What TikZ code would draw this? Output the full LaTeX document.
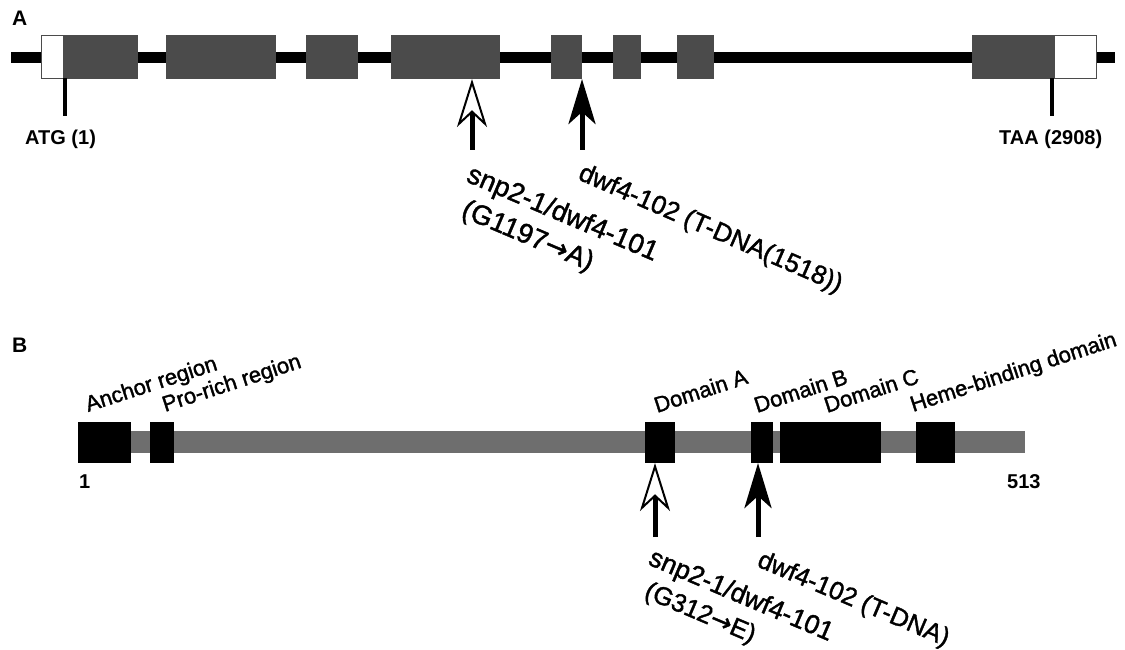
\documentclass[tikz,border=0pt]{standalone}
\usepackage{fontspec}
\setmainfont{Liberation Sans}
\newfontfamily\medfont[FakeBold=1.5]{Liberation Sans}
\newfontfamily\arrowfont[FakeBold=1.5]{DejaVu Sans}
\usetikzlibrary{arrows.meta}
\definecolor{exongray}{HTML}{4B4B4B}
\definecolor{bargray}{HTML}{6E6E6E}
\newcommand{\rarr}{{\arrowfont →}}
\begin{document}
\begin{tikzpicture}[x=1pt,y=-1pt,
  exon/.style={fill=exongray, draw=none, inner sep=0pt, outer sep=0pt, minimum height=44pt},
  utr/.style={fill=white, draw=exongray, line width=1pt, inner sep=0pt, outer sep=0pt, minimum height=43pt},
  dom/.style={fill=black, draw=none, inner sep=0pt, outer sep=0pt, minimum height=41pt},
  tickline/.style={line width=4pt},
  panel/.style={font=\bfseries\fontsize{21}{24}\selectfont, anchor=base west, inner sep=0pt},
  poslabel/.style={font=\bfseries\fontsize{20}{24}\selectfont, anchor=base west, inner sep=0pt},
  mut/.style={font=\medfont\fontsize{26}{30}\selectfont, anchor=base west, inner sep=0pt, rotate=-23.5},
  mutsnp/.style={font=\medfont\fontsize{27.5}{30}\selectfont, anchor=base west, inner sep=0pt, rotate=-23},
  mutb/.style={font=\medfont\fontsize{25.5}{30}\selectfont, anchor=base west, inner sep=0pt, rotate=-23},
  reg/.style={font=\medfont\fontsize{22}{26}\selectfont, anchor=base west, inner sep=0pt, rotate=18},
  hollowarrow/.style={line width=5pt, -{Stealth[length=48pt, width=30pt, inset=14pt, line width=2pt, fill=white]}},
  filledarrow/.style={line width=5pt, -{Stealth[length=45pt, width=27pt, inset=12pt]}}
]
\useasboundingbox (0,0) rectangle (1125,650);

% ---------------- Panel A ----------------
\node[panel] (labA) at (12,26) {A};
\coordinate (ls) at (11,57.5);
\coordinate (le) at (1115,57.5);
\draw[line width=11pt] (ls) -- (le);

\node[utr, minimum width=22pt] (u5) at (52,57) {};
\node[exon, minimum width=75pt] (e1) at (100.5,57) {};
\node[exon, minimum width=110pt] (e2) at (221,57) {};
\node[exon, minimum width=52pt] (e3) at (332,57) {};
\node[exon, minimum width=109pt] (e4) at (445.5,57) {};
\node[exon, minimum width=31pt] (e5) at (566.5,57) {};
\node[exon, minimum width=28pt] (e6) at (627,57) {};
\node[exon, minimum width=37pt] (e7) at (695.5,57) {};
\node[exon, minimum width=82pt] (e8) at (1013,57) {};
\node[utr, minimum width=42pt] (u3) at (1075,57) {};

\coordinate (atgb) at (65,116);
\coordinate (taab) at (1052,116);
\draw[tickline] (atgb) -- (atgb |- u5.south);
\draw[tickline] (taab) -- (taab |- u3.south);
\node[poslabel] (atg) at (25,145) {ATG (1)};
\node[poslabel] (taa) at (999,145) {TAA (2908)};

\coordinate (ma1) at (472,150);
\coordinate (ma2) at (582,150);
\draw[hollowarrow] (ma1) -- (ma1 |- e4.south);
\draw[filledarrow] (ma2) -- (ma2 |- e5.south);

\node[mutsnp] (snpA) at (465,181) {snp2-1/dwf4-101};
\node[mutsnp] (gA) at (460,216) {(G1197\rarr A)};
\node[mut] (dwfA) at (577,179) {dwf4-102 (T-DNA(1518))};

% ---------------- Panel B ----------------
\node[panel] (labB) at (12,352) {B};
\node[fill=bargray, inner sep=0pt, minimum width=947pt, minimum height=22pt] (bar) at (551.5,442) {};

\node[dom, minimum width=53pt] (anc) at (104.5,442.5) {};
\node[dom, minimum width=24pt] (pro) at (162,442.5) {};
\node[dom, minimum width=30pt] (dA) at (660,442.5) {};
\node[dom, minimum width=22pt] (dB) at (762,442.5) {};
\node[dom, minimum width=101pt] (dC) at (830.5,442.5) {};
\node[dom, minimum width=39pt] (heme) at (935.5,442.5) {};

\node[reg] (lanc) at (88,412) {Anchor region};
\node[reg] (lpro) at (165,412) {Pro-rich region};
\node[reg] (ldA) at (657,413) {Domain A};
\node[reg] (ldB) at (757,413) {Domain B};
\node[reg] (ldC) at (827,413) {Domain C};
\node[reg] (lheme) at (913,412) {Heme-binding domain};

\node[poslabel] (one) at (79,488) {1};
\node[poslabel] (end) at (1007,488) {513};

\coordinate (mb1) at (655,537);
\coordinate (mb2) at (758,537);
\draw[hollowarrow] (mb1) -- (mb1 |- dA.south);
\draw[filledarrow] (mb2) -- (mb2 |- dB.south);

\node[mutb, font=\medfont\fontsize{26.5}{30}\selectfont] (snpB) at (647,564) {snp2-1/dwf4-101};
\node[mutb] (gB) at (643,597) {(G312\rarr E)};
\node[mutb] (dwfB) at (756,566) {dwf4-102 (T-DNA)};
\end{tikzpicture}
\end{document}
